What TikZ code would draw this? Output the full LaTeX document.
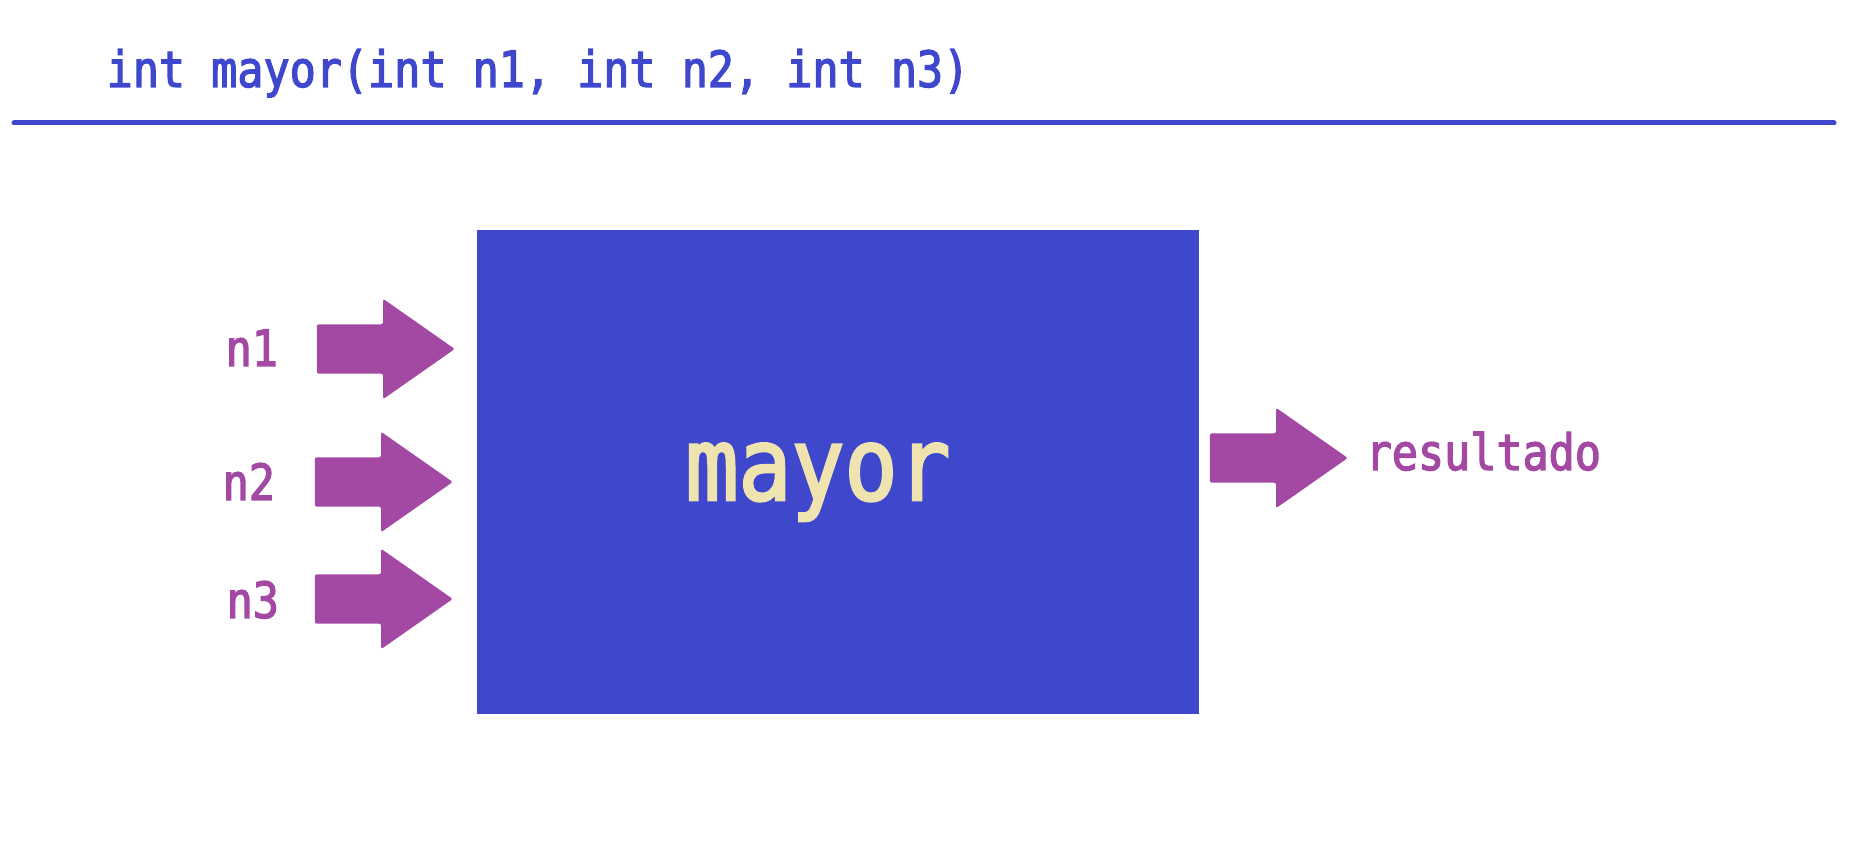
\documentclass[tikz,border=0pt]{standalone}
\usepackage{fontspec}
\setmonofont[FakeStretch=0.87,FakeBold=2.5]{DejaVu Sans Mono}
\usetikzlibrary{shapes.arrows,positioning}
\definecolor{azul}{RGB}{63,72,204}
\definecolor{morado}{RGB}{163,73,164}
\definecolor{crema}{RGB}{239,228,176}

\begin{document}
\begin{tikzpicture}[
        flecha/.style={single arrow, fill=morado, minimum height=1.38cm, minimum width=0.99cm,
            single arrow head extend=0.255cm, single arrow tip angle=70, inner xsep=0pt, inner ysep=0.24cm,
            rounded corners=0.6pt, anchor=tip},
        etiqueta/.style={font=\ttfamily\fontsize{14.2}{17}\selectfont, inner sep=0pt, anchor=base west}
    ]
        \useasboundingbox (0,0) rectangle (18.70,8.61);
        % cabecera
        \node[etiqueta, text=azul] (firma) at (1.06,7.74) {int mayor(int n1, int n2, int n3)};
        \coordinate (L1) at (0.14,7.38);
        \coordinate (L2) at (18.34,7.38);
        \draw[azul, line width=0.05cm, line cap=round] (L1) -- (L2);
        % la caja de la funcion
        \node[fill=azul, minimum width=7.22cm, minimum height=4.84cm, inner sep=0pt] (caja) at (8.38,3.89) {};
        \node[font=\ttfamily\fontsize{28.8}{34}\selectfont, text=crema, inner sep=0pt, anchor=base] (nombre) at (8.18,3.61) {mayor};
        % entradas
        \node[flecha] (fA) at (4.56,5.12) {};
        \node[flecha] (fB) at (4.54,3.79) {};
        \node[flecha] (fC) at (4.54,2.62) {};
        \node[etiqueta, text=morado] (nA) at (2.25,4.95) {n1};
        \node[etiqueta, text=morado] (nB) at (2.22,3.61) {n2};
        \node[etiqueta, text=morado] (nC) at (2.26,2.43) {n3};
        % salida
        \node[flecha] (fS) at (13.49,4.03) {};
        \node[etiqueta, text=morado] (res) at (13.65,3.91) {resultado};
    \end{tikzpicture}
\end{document}
